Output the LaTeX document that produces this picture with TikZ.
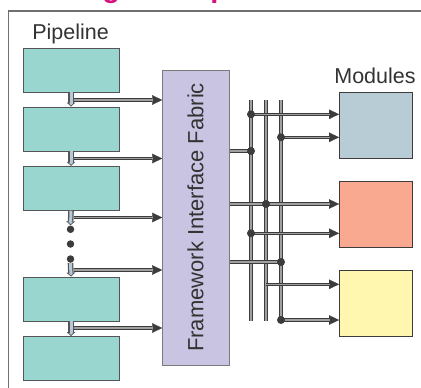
\documentclass[tikz,border=0pt]{standalone}
\usepackage{fontspec}
\setmainfont{Liberation Sans}
\usetikzlibrary{arrows.meta,calc}

\definecolor{ink}{HTML}{333333}
\definecolor{framegray}{HTML}{707070}
\definecolor{titlemag}{HTML}{D4147C}
\definecolor{pipefill}{HTML}{99D6D0}
\definecolor{boxedge}{HTML}{555555}
\definecolor{fabfill}{HTML}{C8C4E2}
\definecolor{fabedge}{HTML}{7A7A7A}
\definecolor{modA}{HTML}{B8CCD6}
\definecolor{modB}{HTML}{F8A990}
\definecolor{modC}{HTML}{FFF7B0}
\definecolor{wdark}{HTML}{3C3C3C}
\definecolor{wlight}{HTML}{A0A0A0}
\definecolor{dripfill}{HTML}{B8C8DC}

\tikzset{
  pbox/.style={draw=boxedge, line width=0.9pt, fill=pipefill, minimum width=96pt, minimum height=44pt, inner sep=0pt},
  mbox/.style={draw=wdark, line width=0.9pt, minimum width=73pt, minimum height=66.5pt, inner sep=0pt},
  fabricbox/.style={draw=fabedge, line width=1pt, fill=fabfill, minimum width=66.6pt, minimum height=295.7pt, inner sep=0pt},
  label/.style={text=ink, font=\fontsize{21.5}{24}\selectfont, inner sep=0pt},
  jdot/.style={circle, fill=wdark, inner sep=0pt, minimum size=8pt},
  pdot/.style={circle, fill=wdark, inner sep=0pt, minimum size=7.5pt},
  % vertical bus lines: dark rails with a grey core
  bus/.style={draw=wdark, line width=4.2pt, postaction={draw=wlight, line width=1.8pt}},
  wire/.style={draw=wdark, line width=3.6pt, postaction={draw=wlight, line width=1.5pt}},
  % double-rail connector ending in a solid head
  feed/.style={draw=wdark, line width=3.6pt,
    -{Triangle[length=10pt,width=9.5pt,line width=0.2pt]},
    postaction={draw=wlight, line width=1.5pt, -{}, shorten >=9.5pt}},
  % short hollow arrows between pipeline stages
  drip/.style={draw=boxedge, line width=5.6pt,
    -{Triangle[length=4pt,width=8.5pt,line width=0.7pt,fill=dripfill]},
    postaction={draw=dripfill, line width=3pt, -{}, shorten >=3pt}},
}

\begin{document}
\begin{tikzpicture}[x=1pt, y=-1pt]
\useasboundingbox (0,0) rectangle (421,388);

% heading, running off the top edge
\begin{scope}
  \clip (0,0) rectangle (421,388);
  \node[anchor=base west, inner sep=0pt, text=titlemag,
        font=\bfseries\fontsize{29}{32}\selectfont] (title) at (41,-2) {Design Components};
\end{scope}

% slide frame
\draw[framegray, line width=1.3pt] (8.5,390) |- (425,11);

% pipeline stages
\node[label, anchor=base] (pipelbl) at (70.5,39) {Pipeline};
\node[pbox] (p1) at (71,70) {};
\node[pbox] (p2) at (71,129) {};
\node[pbox] (p3) at (71,188.3) {};
\node[pbox] (p4) at (71,299) {};
\node[pbox] (p5) at (71,358.5) {};

\node[pdot] (d1) at (70.5,229.3) {};
\node[pdot] (d2) at (70.5,244) {};
\node[pdot] (d3) at (70.5,259) {};

% fabric
\node[fabricbox] (fab) at (196,217.85) {};
\node[text=ink, rotate=90, inner sep=0pt, font=\fontsize{22}{26}\selectfont] (fablbl) at (195.5,217.5) {Framework Interface Fabric};

% modules
\node[label, anchor=base] (modlbl) at (375,83) {Modules};
\node[mbox, fill=modA] (mA) at (376,125.6) {};
\node[mbox, fill=modB] (mB) at (376,214.2) {};
\node[mbox, fill=modC] (mC) at (376,303.3) {};

% stage-to-stage arrows
\draw[drip] (p1.south) -- (p2.north);
\draw[drip] (p2.south) -- (p3.north);
\draw[drip] (p3.south) -- (d1.north);
\draw[drip] (d3.south) -- (p4.north);
\draw[drip] (p4.south) -- (p5.north);

% taps from the pipeline into the fabric
\coordinate (t1) at (73.5,100);
\coordinate (t2) at (73.5,158.5);
\coordinate (t3) at (73.5,217.5);
\coordinate (t4) at (73.5,270);
\coordinate (t5) at (73.5,328);
\foreach \t in {t1,t2,t3,t4,t5}
  \draw[feed] (\t) -- (\t -| fab.west);

% bus lines
\coordinate (b1top) at (251,100);
\coordinate (b1bot) at (251,321);
\coordinate (b2top) at (266,100);
\coordinate (b2bot) at (266,321);
\coordinate (b3top) at (281,100);
\coordinate (b3bot) at (281,320);
\draw[bus] (b1top) -- (b1bot);
\draw[bus] (b2top) -- (b2bot);
\draw[bus] (b3top) -- (b3bot);

% junctions
\coordinate (j1) at (251,114.3);
\coordinate (j2) at (281,137.3);
\coordinate (j3) at (251,151);
\coordinate (j4) at (266,204);
\coordinate (j5) at (251,233.3);
\coordinate (j6) at (281,262);
\coordinate (c4) at (266,284.3);
\coordinate (j7) at (281,320);

% fabric outputs onto the buses
\draw[wire] (fab.east |- j3) -- (j3);
\draw[wire] (fab.east |- j6) -- (j6);
\draw[feed] (fab.east |- j4) -- (j4 -| mB.west);

% bus outputs into the modules
\draw[feed] (j1) -- (j1 -| mA.west);
\draw[feed] (j2) -- (j2 -| mA.west);
\draw[feed] (j5) -- (j5 -| mB.west);
\draw[feed] (c4) -- (c4 -| mC.west);
\draw[feed] (j7) -- (j7 -| mC.west);

\foreach \j in {j1,j2,j3,j4,j5,j6,j7}
  \node[jdot] at (\j) {};
\end{tikzpicture}
\end{document}
